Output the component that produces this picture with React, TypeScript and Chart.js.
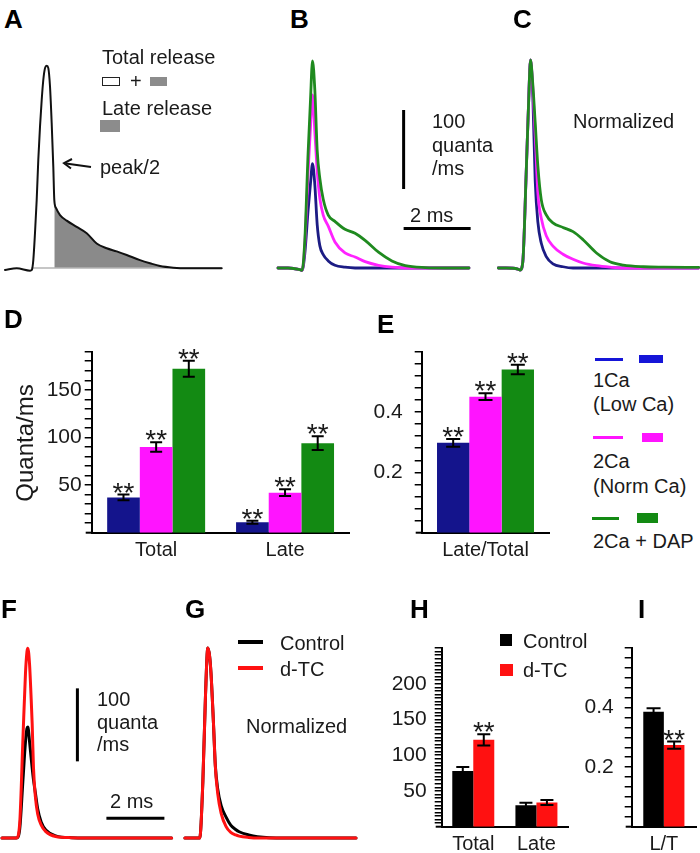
import React, { useEffect, useRef } from "react";
import { Chart, registerables } from "chart.js";

Chart.register(...registerables);

const FONT = '"Liberation Sans", Arial, Helvetica, sans-serif';
const INK = "#1a1a1a";

// ---------- colours
const NAVY_T = "#1c1c84";
const MAG_T = "#ff22ff";
const GREEN_T = "#1f8a1f";
const NAVY_B = "#14148c";
const MAG_B = "#ff14ff";
const GREEN_B = "#138a13";
const LEG_BLUE = "#1515d8";
const RED = "#ff1111";

// ---------- Panel A : schematic release rate (ms, quanta/ms)
const A_TIME = [0, 0.35, 0.75, 0.8, 0.845, 0.895, 0.946, 0.994, 1.045, 1.096, 1.143, 1.194, 1.245, 1.293, 1.343, 1.394, 1.442, 1.472, 1.522, 1.642, 1.842, 2.14, 2.439, 2.737, 3.036, 3.334, 3.633, 4.03, 4.328, 4.627, 5.024, 5.424, 6.469];
const A_RATE = [-2.5, -0.4, -3.4, -2.5, 10, 44, 86, 137, 179, 213, 238, 253, 256, 253, 230, 183, 128, 86, 76, 67, 60, 52, 44, 31, 25, 21, 16.5, 10, 6, 2.5, 0.4, -0.4, -0.4];
const A_LATE_FROM = 1.472;
const A_BASE_TIME = [0.8, 6.45];
const A_BASE_RATE = [0, 0];

// ---------- Panel B : release rate (quanta/ms)
const BC_TIME = [0, 0.3, 0.65, 0.72, 0.8, 0.9, 0.97, 1.03, 1.1, 1.17, 1.25, 1.35, 1.5, 1.7, 2.0, 2.3, 2.6, 3.0, 3.4, 3.8, 4.4, 5.0, 5.7];
const B_DAP = [0, 0, -2, -3, 35, 147, 213, 262, 225, 149, 113, 87, 67, 59, 49, 44, 35, 20, 9, 3, 0.5, 0, 0];
const B_NORM = [0, 0, -2, -3, 29, 123, 178, 219, 172, 123, 88, 67, 53, 33, 19, 14, 8, 3.4, 1, 0, 0, 0, 0];
const B_LOW = [0, 0, -2, -3, 18, 74, 107, 132, 105, 55, 28, 17, 9, 3.4, 1, 0, 0, 0, 0, 0, 0, 0, 0];

// ---------- Panel C : normalized
const C_TIME = [0.07, 0.3, 0.65, 0.72, 0.8, 0.9, 0.97, 1.03, 1.1, 1.17, 1.25, 1.35, 1.5, 1.7, 2.0, 2.3, 2.6, 3.0, 3.4, 3.8, 4.4, 5.0, 6.05];
const C_DAP = [0, 0, -0.005, -0.01, 0.03, 0.45, 0.78, 1, 0.88, 0.7, 0.49, 0.33, 0.255, 0.217, 0.195, 0.175, 0.136, 0.072, 0.03, 0.014, 0.006, 0.004, 0.003];
const C_NORM = [0, 0, -0.005, -0.01, 0.03, 0.45, 0.78, 1, 0.86, 0.64, 0.36, 0.24, 0.155, 0.105, 0.066, 0.042, 0.024, 0.011, 0.004, 0, 0, 0, 0];
const C_LOW = [0, 0, -0.005, -0.01, 0.03, 0.45, 0.78, 1, 0.82, 0.42, 0.22, 0.12, 0.055, 0.02, 0.006, 0, 0, 0, 0, 0, 0, 0, 0];

// scale bars
const SCALE_RATE = 100; // quanta/ms
const SCALE_TIME = 2; // ms

// ---------- Panel D
const D_CATS = ["Total", "Late"];
const D_LOW = [37, 11];
const D_LOW_ERR = [3, 1.5];
const D_NORM = [90, 42];
const D_NORM_ERR = [5, 3.5];
const D_DAP = [172, 94];
const D_DAP_ERR = [8.4, 7.3];
const D_STARS = [true, true];
const D_TICK_LABELS = [50, 100, 150];

// ---------- Panel E
const E_CATS = ["Late/Total"];
const E_LOW = [0.298];
const E_LOW_ERR = [0.013];
const E_NORM = [0.451];
const E_NORM_ERR = [0.011];
const E_DAP = [0.541];
const E_DAP_ERR = [0.016];
const E_STARS = [true];
const E_TICK_LABELS = [0.2, 0.4];

// ---------- Panel F : release rate (quanta/ms)
const F_TIME = [0, 0.5, 0.61, 0.72, 0.81, 0.86, 0.89, 0.95, 1.0, 1.04, 1.085, 1.15, 1.23, 1.35, 1.51, 1.85, 2.4, 3.5, 5.85];
const F_DTC = [0, 0, 20, 134, 226, 255, 260, 238, 196, 157, 97, 57, 33, 18, 8.7, 2, 0.5, 0, 0];
const F_CONTROL = [0, 0, 12, 78, 132, 150, 152, 132, 112, 96, 80, 62, 40, 22, 11, 3, 0.5, 0, 0];

// ---------- Panel G : normalized
const G_TIME = [0.1, 0.5, 0.61, 0.72, 0.81, 0.89, 0.95, 1.0, 1.085, 1.15, 1.23, 1.35, 1.52, 1.68, 1.85, 1.97, 2.3, 2.6, 3.5, 6.0];
const G_DTC = [0, 0, 0, 0.3, 0.75, 1, 0.96, 0.867, 0.604, 0.375, 0.235, 0.13, 0.06, 0.03, 0.016, 0.01, 0.003, 0, 0, 0];
const G_CONTROL = [0, 0, 0, 0.3, 0.75, 1, 0.96, 0.867, 0.604, 0.38, 0.26, 0.17, 0.11, 0.068, 0.045, 0.033, 0.016, 0.007, 0, 0];

// ---------- Panel H
const H_CATS = ["Total", "Late"];
const H_CONTROL = [78, 30];
const H_CONTROL_ERR = [5.5, 3.5];
const H_DTC = [121.5, 34];
const H_DTC_ERR = [8, 3.5];
const H_CONTROL_STARS = [false, false];
const H_DTC_STARS = [true, false];
const H_TICK_LABELS = [50, 100, 150, 200];

// ---------- Panel I
const I_CATS = ["L/T"];
const I_CONTROL = [0.386];
const I_CONTROL_ERR = [0.012];
const I_DTC = [0.274];
const I_DTC_ERR = [0.012];
const I_TICK_LABELS = [0.2, 0.4];

type Line = { t: number[]; v: number[]; color: string; width: number; fill?: string; from?: number };
type SBar = [number, number, number, number];

function TraceChart(props: { box: number[]; map: number[]; lines: Line[]; bars?: SBar[] }) {
  const ref = useRef<HTMLCanvasElement>(null);
  const [left, top, width, height] = props.box;
  useEffect(() => {
    const [px0, sx, py0, sy] = props.map;
    const bars = props.bars || [];
    const scaleBars = {
      id: "scaleBars",
      afterDatasetsDraw(chart: any) {
        const ctx = chart.ctx;
        const xs = chart.scales.x;
        const ys = chart.scales.y;
        ctx.save();
        ctx.strokeStyle = "#000";
        ctx.lineWidth = 3;
        bars.forEach((b) => {
          ctx.beginPath();
          ctx.moveTo(xs.getPixelForValue(b[0]), ys.getPixelForValue(b[1]));
          ctx.lineTo(xs.getPixelForValue(b[2]), ys.getPixelForValue(b[3]));
          ctx.stroke();
        });
        ctx.restore();
      },
    };
    const chart = new Chart(ref.current as HTMLCanvasElement, {
      type: "line",
      data: {
        datasets: props.lines.map((l) => {
          const pts = l.t
            .map((x, i) => ({ x, y: l.v[i] }))
            .filter((p) => l.from === undefined || p.x >= l.from - 1e-9);
          return {
            data: pts,
            borderColor: l.fill ? "rgba(0,0,0,0)" : l.color,
            borderWidth: l.fill ? 0 : l.width,
            backgroundColor: l.fill ? l.fill : "rgba(0,0,0,0)",
            fill: l.fill ? "origin" : false,
            pointRadius: 0,
            cubicInterpolationMode: "monotone",
            borderJoinStyle: "round",
            borderCapStyle: "round",
          } as any;
        }),
      },
      options: {
        animation: false,
        responsive: false,
        devicePixelRatio: 1,
        events: [],
        layout: { padding: 0 },
        plugins: { legend: { display: false }, tooltip: { enabled: false } },
        scales: {
          x: { type: "linear", display: false, min: (left - px0) / sx, max: (left + width - px0) / sx },
          y: { type: "linear", display: false, min: (py0 - top - height) / sy, max: (py0 - top) / sy },
        },
      } as any,
      plugins: [scaleBars],
    });
    return () => chart.destroy();
  }, []);
  return <canvas ref={ref} width={width} height={height} style={{ position: "absolute", left, top, width, height }} />;
}

type BSeries = { values: number[]; errors: number[]; stars: boolean[]; color: string };

function BarChart(props: {
  box: number[];
  area: number[];
  cats: string[];
  series: BSeries[];
  yMax: number;
  yStep: number;
  yLabels: number[];
  catPct: number;
  tickPad: number;
  cap: number;
}) {
  const ref = useRef<HTMLCanvasElement>(null);
  const [left, top, width, height] = props.box;
  useEffect(() => {
    const [al, at, ar, ab] = props.area;
    const { yMax, yStep, yLabels, series, cap } = props;
    const ticks: number[] = [];
    for (let k = 1; k * yStep <= yMax + 1e-9; k++) ticks.push(+(k * yStep).toFixed(6));
    const decor = {
      id: "decor",
      afterDatasetsDraw(chart: any) {
        const ctx = chart.ctx;
        const ys = chart.scales.y;
        const ca = chart.chartArea;
        ctx.save();
        ctx.strokeStyle = "#000";
        ctx.lineWidth = 2;
        ctx.beginPath();
        ctx.moveTo(ca.left - 6, ca.bottom);
        ctx.lineTo(ca.left, ca.bottom);
        ctx.stroke();
        series.forEach((s, i) => {
          const meta = chart.getDatasetMeta(i);
          meta.data.forEach((el: any, j: number) => {
            const yt = ys.getPixelForValue(s.values[j] + s.errors[j]);
            const yb = ys.getPixelForValue(s.values[j] - s.errors[j]);
            ctx.lineWidth = 2;
            ctx.beginPath();
            ctx.moveTo(el.x, yt);
            ctx.lineTo(el.x, yb);
            ctx.moveTo(el.x - cap, yt);
            ctx.lineTo(el.x + cap, yt);
            ctx.moveTo(el.x - cap, yb);
            ctx.lineTo(el.x + cap, yb);
            ctx.stroke();
            if (s.stars[j]) {
              ctx.fillStyle = INK;
              ctx.font = `28px ${FONT}`;
              ctx.textAlign = "center";
              ctx.textBaseline = "alphabetic";
              ctx.fillText("**", el.x, yt + 7);
            }
          });
        });
        ctx.restore();
      },
    };
    const chart = new Chart(ref.current as HTMLCanvasElement, {
      type: "bar",
      data: {
        labels: props.cats,
        datasets: series.map((s) => ({
          data: s.values,
          backgroundColor: s.color,
          borderWidth: 0,
          barPercentage: 1,
          categoryPercentage: props.catPct,
        })),
      },
      options: {
        animation: false,
        responsive: false,
        devicePixelRatio: 1,
        events: [],
        layout: { padding: { left: 0, top: at - top, right: left + width - ar, bottom: 0 } },
        plugins: { legend: { display: false }, tooltip: { enabled: false } },
        scales: {
          x: {
            grid: { display: false, drawTicks: false },
            border: { display: true, color: "#000", width: 2 },
            ticks: { padding: 6, color: INK, font: { family: FONT, size: 20 } },
            afterFit: (s: any) => {
              s.height = top + height - ab;
            },
          },
          y: {
            min: 0,
            max: yMax,
            afterBuildTicks: (s: any) => {
              s.ticks = ticks.map((v) => ({ value: v }));
            },
            afterFit: (s: any) => {
              s.width = al - left;
            },
            grid: { display: true, drawOnChartArea: false, drawTicks: true, tickLength: 7, color: "#000", lineWidth: 1.5 },
            border: { display: true, color: "#000", width: 2 },
            ticks: {
              autoSkip: false,
              padding: props.tickPad,
              color: INK,
              font: { family: FONT, size: 21 },
              callback: (v: any) => {
                const hit = yLabels.find((l) => Math.abs(l - Number(v)) < 1e-6);
                return hit === undefined ? "" : String(hit);
              },
            },
          },
        },
      } as any,
      plugins: [decor],
    });
    return () => chart.destroy();
  }, []);
  return <canvas ref={ref} width={width} height={height} style={{ position: "absolute", left, top, width, height }} />;
}

function T(props: { x: number; b: number; s?: number; w?: number; c?: string; children: any }) {
  const s = props.s ?? 20;
  return (
    <div
      style={{
        position: "absolute",
        left: props.x,
        top: props.b - 0.8465 * s,
        fontSize: s,
        lineHeight: `${s}px`,
        fontFamily: FONT,
        fontWeight: props.w ?? 400,
        color: props.c ?? INK,
        whiteSpace: "pre",
      }}
    >
      {props.children}
    </div>
  );
}

function Bx(props: { x: number; y: number; w: number; h: number; bg?: string; border?: string }) {
  return (
    <div
      style={{
        position: "absolute",
        left: props.x,
        top: props.y,
        width: props.w,
        height: props.h,
        background: props.bg ?? "transparent",
        border: props.border,
        boxSizing: "border-box",
      }}
    />
  );
}

const L = (x: number, b: number, txt: string) => <T x={x} b={b} s={26} w={700} c="#000">{txt}</T>;

export default function App() {
  return (
    <div style={{ position: "absolute", left: 0, top: 0, width: 700, height: 853, background: "#fff", overflow: "hidden" }}>
      {/* A */}
      <TraceChart
        box={[0, 40, 230, 240]}
        map={[5, 33.5, 268, 0.79]}
        lines={[
          { t: A_TIME, v: A_RATE, color: "#111", width: 2 },
          { t: A_BASE_TIME, v: A_BASE_RATE, color: "#b4b4b4", width: 1.5 },
          { t: A_TIME, v: A_RATE, color: "#8a8a8a", width: 0, fill: "#8a8a8a", from: A_LATE_FROM },
        ]}
      />
      {L(4, 28, "A")}
      <T x={102} b={64}>Total release</T>
      <Bx x={102} y={76.5} w={18} h={9} border="1.5px solid #222" />
      <T x={130} b={88}>+</T>
      <Bx x={150} y={76.5} w={17} h={9} bg="#8c8c8c" />
      <T x={102} b={114.5}>Late release</T>
      <Bx x={100} y={120} w={20} h={12} bg="#8c8c8c" />
      <T x={100} b={174}>peak/2</T>
      <svg style={{ position: "absolute", left: 0, top: 0 }} width={120} height={200}>
        <line x1={91} y1={167} x2={66} y2={163.5} stroke="#111" strokeWidth={2} />
        <polyline points="72,159 64,163.2 71,168.5" fill="none" stroke="#111" strokeWidth={2} />
      </svg>

      {/* B */}
      <TraceChart
        box={[270, 40, 210, 240]}
        map={[278, 33.5, 268, 0.79]}
        lines={[
          { t: BC_TIME, v: B_DAP, color: GREEN_T, width: 2.8 },
          { t: BC_TIME, v: B_NORM, color: MAG_T, width: 2.8 },
          { t: BC_TIME, v: B_LOW, color: NAVY_T, width: 2.8 },
        ]}
        bars={[
          [3.75, 100, 3.75, 100 + SCALE_RATE],
          [3.75, 50, 3.75 + SCALE_TIME, 50],
        ]}
      />
      {L(290, 28, "B")}
      <T x={432} b={128}>100</T>
      <T x={432} b={151.5}>quanta</T>
      <T x={432} b={175}>/ms</T>
      <T x={410} b={222}>2 ms</T>

      {/* C */}
      <TraceChart
        box={[485, 40, 215, 240]}
        map={[496, 33.5, 268, 208]}
        lines={[
          { t: C_TIME, v: C_DAP, color: GREEN_T, width: 2.8 },
          { t: C_TIME, v: C_NORM, color: MAG_T, width: 2.8 },
          { t: C_TIME, v: C_LOW, color: NAVY_T, width: 2.8 },
        ]}
      />
      {L(513, 28, "C")}
      <T x={573} b={128}>Normalized</T>

      {/* D */}
      <BarChart
        box={[0, 300, 360, 270]}
        area={[91.7, 351.7, 349.5, 532.7]}
        cats={D_CATS}
        series={[
          { values: D_LOW, errors: D_LOW_ERR, stars: D_STARS, color: NAVY_B },
          { values: D_NORM, errors: D_NORM_ERR, stars: D_STARS, color: MAG_B },
          { values: D_DAP, errors: D_DAP_ERR, stars: D_STARS, color: GREEN_B },
        ]}
        yMax={190}
        yStep={10}
        yLabels={D_TICK_LABELS}
        catPct={0.76}
        tickPad={3}
        cap={6}
      />
      {L(4, 328, "D")}
      <div
        style={{
          position: "absolute",
          left: 25,
          top: 443,
          transform: "translate(-50%, -50%) rotate(-90deg)",
          fontFamily: FONT,
          fontSize: 24,
          lineHeight: "24px",
          color: INK,
          whiteSpace: "pre",
        }}
      >
        Quanta/ms
      </div>

      {/* E */}
      <BarChart
        box={[340, 300, 220, 270]}
        area={[421.7, 351.7, 549.3, 532.7]}
        cats={E_CATS}
        series={[
          { values: E_LOW, errors: E_LOW_ERR, stars: E_STARS, color: NAVY_B },
          { values: E_NORM, errors: E_NORM_ERR, stars: E_STARS, color: MAG_B },
          { values: E_DAP, errors: E_DAP_ERR, stars: E_STARS, color: GREEN_B },
        ]}
        yMax={0.6}
        yStep={0.04}
        yLabels={E_TICK_LABELS}
        catPct={0.76}
        tickPad={12}
        cap={7}
      />
      {L(377, 333, "E")}
      <Bx x={595} y={357.5} w={28} h={3} bg={LEG_BLUE} />
      <Bx x={639} y={355} w={24} h={8} bg={LEG_BLUE} />
      <T x={593} b={387}>1Ca</T>
      <T x={593} b={411}>(Low Ca)</T>
      <Bx x={593} y={435.5} w={30} h={3} bg={MAG_B} />
      <Bx x={642} y={433} w={21} h={9} bg={MAG_B} />
      <T x={593} b={468}>2Ca</T>
      <T x={593} b={493}>(Norm Ca)</T>
      <Bx x={592} y={517} w={27} h={3} bg={GREEN_B} />
      <Bx x={637} y={513} w={21} h={10} bg={GREEN_B} />
      <T x={593} b={548}>2Ca + DAP</T>

      {/* F */}
      <TraceChart
        box={[0, 630, 178, 215]}
        map={[2, 29, 838, 0.73]}
        lines={[
          { t: F_TIME, v: F_DTC, color: RED, width: 3 },
          { t: F_TIME, v: F_CONTROL, color: "#000", width: 3 },
        ]}
        bars={[
          [2.6, 105, 2.6, 105 + SCALE_RATE],
          [3.6, 27, 3.6 + SCALE_TIME, 27],
        ]}
      />
      {L(1, 618, "F")}
      <T x={97} b={706}>100</T>
      <T x={97} b={728.5}>quanta</T>
      <T x={97} b={751}>/ms</T>
      <T x={110} b={808}>2 ms</T>

      {/* G */}
      <TraceChart
        box={[175, 630, 190, 215]}
        map={[182, 29, 838, 190]}
        lines={[
          { t: G_TIME, v: G_DTC, color: RED, width: 3 },
          { t: G_TIME, v: G_CONTROL, color: "#000", width: 3 },
        ]}
      />
      {L(185, 618, "G")}
      <Bx x={238} y={640} w={25} h={4} bg="#000" />
      <T x={280} b={650}>Control</T>
      <Bx x={238} y={666} w={25} h={4} bg={RED} />
      <T x={280} b={676}>d-TC</T>
      <T x={246} b={733}>Normalized</T>

      {/* H */}
      <BarChart
        box={[380, 600, 200, 253]}
        area={[441.7, 648, 568, 826.7]}
        cats={H_CATS}
        series={[
          { values: H_CONTROL, errors: H_CONTROL_ERR, stars: H_CONTROL_STARS, color: "#000" },
          { values: H_DTC, errors: H_DTC_ERR, stars: H_DTC_STARS, color: RED },
        ]}
        yMax={250}
        yStep={5}
        yLabels={H_TICK_LABELS}
        catPct={0.665}
        tickPad={8}
        cap={6.5}
      />
      {L(410, 618, "H")}
      <Bx x={500} y={634} w={12} h={12} bg="#000" />
      <T x={523} b={648}>Control</T>
      <Bx x={500} y={664} w={13} h={12} bg={RED} />
      <T x={523} b={677}>d-TC</T>

      {/* I */}
      <BarChart
        box={[565, 600, 135, 253]}
        area={[631.7, 648, 696, 826.7]}
        cats={I_CATS}
        series={[
          { values: I_CONTROL, errors: I_CONTROL_ERR, stars: [false], color: "#000" },
          { values: I_DTC, errors: I_DTC_ERR, stars: [true], color: RED },
        ]}
        yMax={0.6}
        yStep={0.6 / 18}
        yLabels={I_TICK_LABELS}
        catPct={0.64}
        tickPad={11}
        cap={7}
      />
      {L(638, 618, "I")}
    </div>
  );
}
